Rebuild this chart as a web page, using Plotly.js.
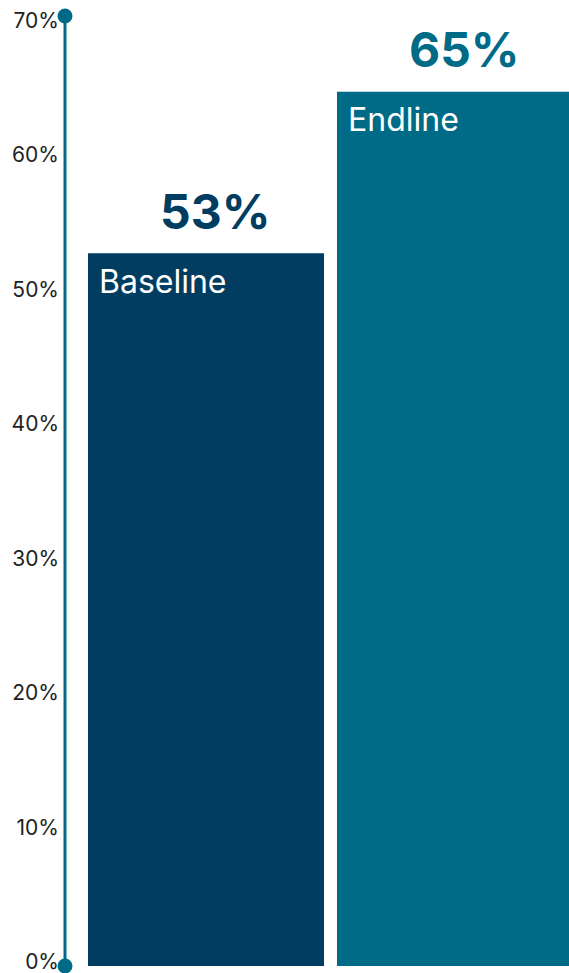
<!DOCTYPE html>
<html><head><meta charset="utf-8">
<script src="https://cdn.plot.ly/plotly-3.0.1.min.js"></script>
<style>html,body{margin:0;padding:0;background:#fff;overflow:hidden}</style>
</head><body><div id="chart" style="width:569px;height:973px"></div>
<script>
const categories = ['Baseline', 'Endline'];
const values = [53, 65];
const valueLabels = ['53%', '65%'];
const barColors = ['#003D60', '#006B86'];
const tickValues = [0, 10, 20, 30, 40, 50, 60, 70];
const tickLabels = ['0%', '10%', '20%', '30%', '40%', '50%', '60%', '70%'];

const FONT = 'Inter, "Noto Sans", sans-serif';
const barWidth = 0.948;
const xIdx = categories.map((c, i) => i);

const trace = {
  type: 'bar',
  x: xIdx,
  y: values,
  width: barWidth,
  marker: {color: barColors, line: {width: 0}},
  hoverinfo: 'skip'
};

const annotations = [];
categories.forEach((c, i) => {
  annotations.push({
    xref: 'x', yref: 'y', x: i, y: values[i],
    text: '<b>' + valueLabels[i] + '</b>', showarrow: false,
    xanchor: 'center', yanchor: 'middle', xshift: 9, yshift: 42,
    font: {family: FONT, size: 48, color: barColors[i], weight: 900}
  });
  annotations.push({
    xref: 'x', yref: 'y', x: i - barWidth / 2, y: values[i],
    text: c, showarrow: false,
    xanchor: 'left', yanchor: 'middle', xshift: 9, yshift: -28,
    font: {family: FONT, size: 32, color: '#ffffff'}
  });
});

const H = 973;
const lineColor = '#006B86';
const shapes = [
  {type: 'line', xref: 'paper', yref: 'paper', x0: 0, x1: 0, y0: 1 - 967 / H, y1: 1 - 15 / H,
   line: {color: lineColor, width: 3}, layer: 'above'},
  {type: 'circle', xref: 'paper', yref: 'paper', xsizemode: 'pixel', ysizemode: 'pixel',
   xanchor: 0, yanchor: 1 - 16 / H, x0: -7.5, x1: 7.5, y0: -7.5, y1: 7.5,
   fillcolor: lineColor, line: {width: 0}, layer: 'above'},
  {type: 'circle', xref: 'paper', yref: 'paper', xsizemode: 'pixel', ysizemode: 'pixel',
   xanchor: 0, yanchor: 1 - 966 / H, x0: -7.5, x1: 7.5, y0: -7.5, y1: 7.5,
   fillcolor: lineColor, line: {width: 0}, layer: 'above'}
];

const layout = {
  width: 569, height: 973,
  margin: {l: 65, r: 0, t: 0, b: 0, pad: 0},
  paper_bgcolor: '#fff', plot_bgcolor: '#fff',
  showlegend: false,
  xaxis: {range: [-0.5663, 1.4578], visible: false, fixedrange: true},
  yaxis: {
    range: [-0.520, 71.82], tickmode: 'array', tickvals: tickValues, ticktext: tickLabels,
    showgrid: false, zeroline: false, showline: false, ticks: '',
    ticklabelstandoff: 5, ticklabelshift: -4, ticklabeloverflow: 'allow',
    tickfont: {family: FONT, size: 21, color: '#222222'}, fixedrange: true
  },
  annotations: annotations,
  shapes: shapes
};

Plotly.newPlot('chart', [trace], layout, {displayModeBar: false, staticPlot: true});
</script></body></html>
